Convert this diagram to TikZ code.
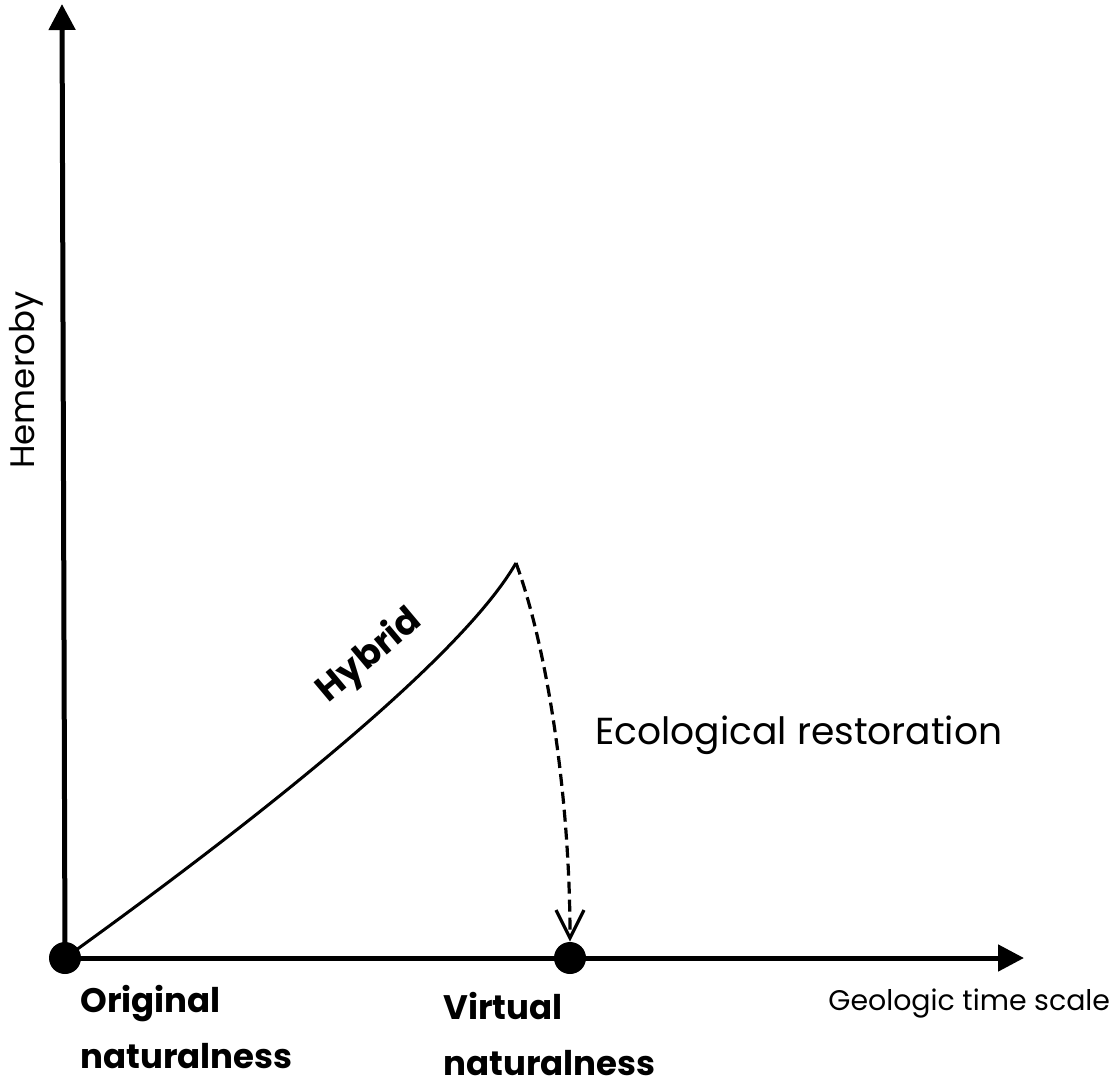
\documentclass[tikz,border=0pt]{standalone}
\usepackage{fontspec}
\setmainfont{Poppins}
\usetikzlibrary{arrows.meta}

\begin{document}
\begin{tikzpicture}[x=0.5pt, y=-0.5pt,
  axis/.style={line width=2.5pt, -{Triangle[length=13pt,width=13pt]}},
  dot/.style={circle, fill=black, inner sep=0pt, minimum size=16pt},
  label/.style={font=\fontsize{17}{28}\selectfont\bfseries, align=left, inner sep=0pt}]
  \useasboundingbox (0,0) rectangle (1120,1084);

  % Axes
  \coordinate (ytop) at (62,4);
  \coordinate (xend) at (1024,958);
  \node[dot] (origin) at (65,958) {};
  \node[dot] (virtual) at (570,958) {};
  \draw[axis] (origin.center) -- (ytop);
  \draw[axis] (origin.center) -- (xend);
  \node[rotate=90, font=\fontsize{17}{17}\selectfont] (hemeroby) at (26,380) {Hemeroby};
  \node[anchor=base west, font=\fontsize{14.2}{14.2}\selectfont, inner sep=0pt] (geo) at (828,1010) {Geologic time scale};

  % Hybrid path
  \coordinate (peak) at (516,563);
  \draw[line width=1.5pt] (origin.center) .. controls (250,825) and (460,660) .. (peak);
  \node[rotate=40, font=\fontsize{18}{18}\selectfont\bfseries] (hybrid) at (370,656) {Hybrid};

  % Restoration
  \draw[line width=1.6pt, dash pattern=on 6pt off 3pt, -{Straight Barb[length=14pt,width=14pt]}]
    (peak) .. controls (548,650) and (570,800) .. (virtual.north);
  \node[anchor=base west, font=\fontsize{18.8}{18.8}\selectfont, inner sep=0pt] (eco) at (595,744) {Ecological restoration};

  % Labels
  \node[label, anchor=north west] (orig) at (80,985) {Original\\naturalness};
  \node[label, anchor=north west] (virt) at (443,992) {Virtual\\naturalness};
\end{tikzpicture}
\end{document}
